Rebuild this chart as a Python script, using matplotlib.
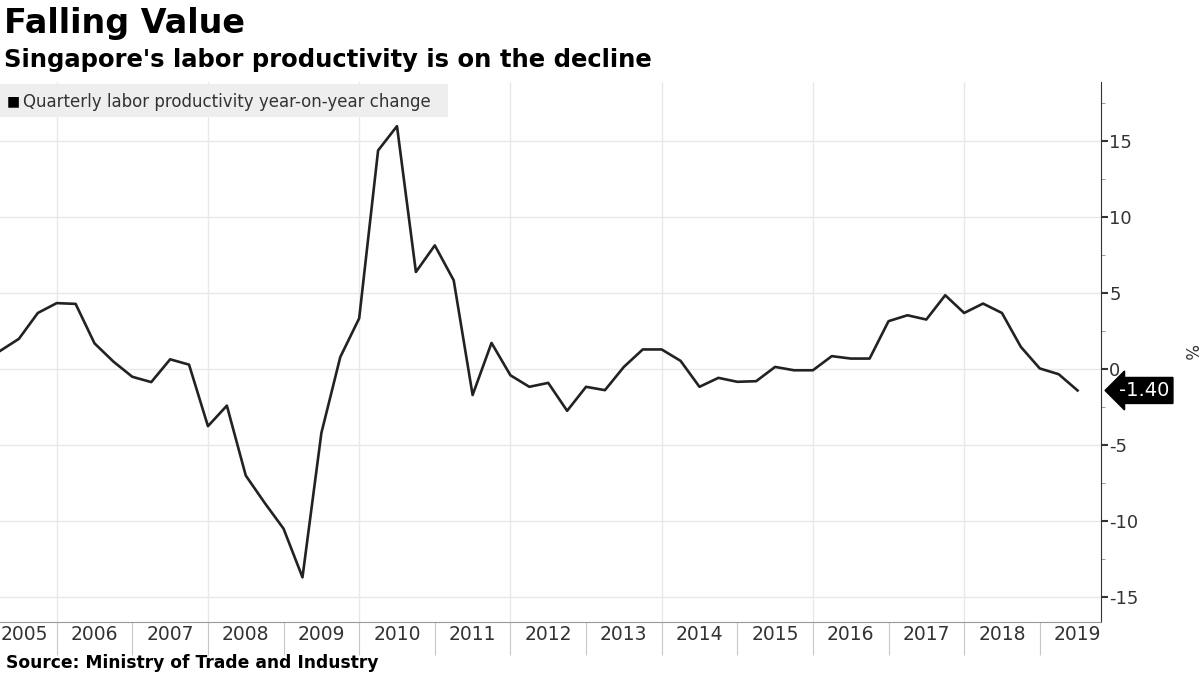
import numpy as np
import matplotlib.pyplot as plt

plt.rcParams['axes.unicode_minus'] = False

# quarterly labor productivity, yoy % change, 2005Q1 .. 2019Q2
start_year = 2005
productivity = [
    1.2, 2.0, 3.7, 4.35,        # 2005
    4.3, 1.7, 0.5, -0.5,        # 2006
    -0.85, 0.65, 0.3, -3.75,    # 2007
    -2.4, -7.0, -8.8, -10.5,    # 2008
    -13.7, -4.2, 0.8, 3.35,     # 2009
    14.4, 16.0, 6.4, 8.15,      # 2010
    5.85, -1.7, 1.73, -0.4,     # 2011
    -1.16, -0.9, -2.74, -1.16,  # 2012
    -1.38, 0.15, 1.3, 1.3,      # 2013
    0.55, -1.16, -0.57, -0.83,  # 2014
    -0.79, 0.15, -0.07, -0.07,  # 2015
    0.86, 0.7, 0.7, 3.16,       # 2016
    3.55, 3.27, 4.87, 3.7,      # 2017
    4.32, 3.7, 1.47, 0.05,      # 2018
    -0.33, -1.40,               # 2019
]
year_labels = [str(y) for y in range(2005, 2020)]
last_label = '-1.40'

# quarter-end positions
x = start_year + 0.25 * np.arange(1, len(productivity) + 1)

fig = plt.figure(figsize=(12, 6.74), dpi=100)
ax = fig.add_axes([0.0, 0.0772, 0.9175, 0.801])

ax.plot(x, productivity, color='#222222', lw=1.9, zorder=3)

ax.set_xlim(2005.25, 2019.81)
ax.set_ylim(-16.64, 18.9)

# grid
for yv in range(-15, 20, 5):
    ax.axhline(yv, color='#e8e8e8', lw=1, zorder=1)
for xv in range(2006, 2020, 2):
    ax.axvline(xv, color='#e8e8e8', lw=1, zorder=1)

# spines / y axis on right
for s in ['top', 'left']:
    ax.spines[s].set_visible(False)
ax.spines['right'].set_color('#333333')
ax.spines['bottom'].set_color('#999999')
ax.yaxis.tick_right()
ax.set_yticks(range(-15, 20, 5))
ax.set_yticks(np.arange(-15, 20, 2.5), minor=True)
ax.tick_params(axis='y', which='major', direction='out', length=5, width=1.5,
               color='#333333', labelsize=13, labelcolor='#333333', pad=1)
ax.tick_params(axis='y', which='minor', direction='out', length=3, color='#888888')

# x axis: year separators with labels centred between them
ax.set_xticks(range(2006, 2020))
ax.set_xticklabels([])
ax.tick_params(axis='x', which='major', direction='out', length=24, color='#c8c8c8')
for i, lab in enumerate(year_labels):
    xc = 2005 + i + 0.5
    if lab == '2005':
        xc = 2005.57
    ax.text(xc, -0.005, lab, transform=ax.get_xaxis_transform(), ha='center',
            va='top', fontsize=13.5, color='#333333', clip_on=False)

# last value tag
tag_y = productivity[-1]
ax.annotate(last_label, xy=(1.0, tag_y), xycoords=('axes fraction', 'data'),
            xytext=(13, 0), textcoords='offset points', ha='left', va='center',
            fontsize=14, color='white',
            bbox=dict(boxstyle='larrow,pad=0.18', fc='black', ec='black'),
            annotation_clip=False)

ax.text(1.08, 0.50, '%', transform=ax.transAxes, rotation=270, fontsize=12,
        color='#333333', ha='center', va='center')

# legend box
fig.patches.append(plt.Rectangle((0.0, 0.826), 0.373, 0.049, transform=fig.transFigure,
                                 facecolor='#eeeeee', edgecolor='none', zorder=0))
fig.text(0.006, 0.849, '\u25a0', fontsize=10, color='black', va='center')
fig.text(0.019, 0.849, 'Quarterly labor productivity year-on-year change', fontsize=12,
         color='#333333', va='center', family='DejaVu Sans')

# titles
fig.text(0.003, 0.965, 'Falling Value', fontsize=24, fontweight='bold',
         family='DejaVu Sans', va='center')
fig.text(0.003, 0.911, "Singapore's labor productivity is on the decline", fontsize=17.5,
         fontweight='bold', family='DejaVu Sans', va='center')
fig.text(0.005, 0.016, 'Source: Ministry of Trade and Industry', fontsize=12.3,
         fontweight='bold', family='DejaVu Sans', va='center')

fig.savefig('out.png', dpi=100)
